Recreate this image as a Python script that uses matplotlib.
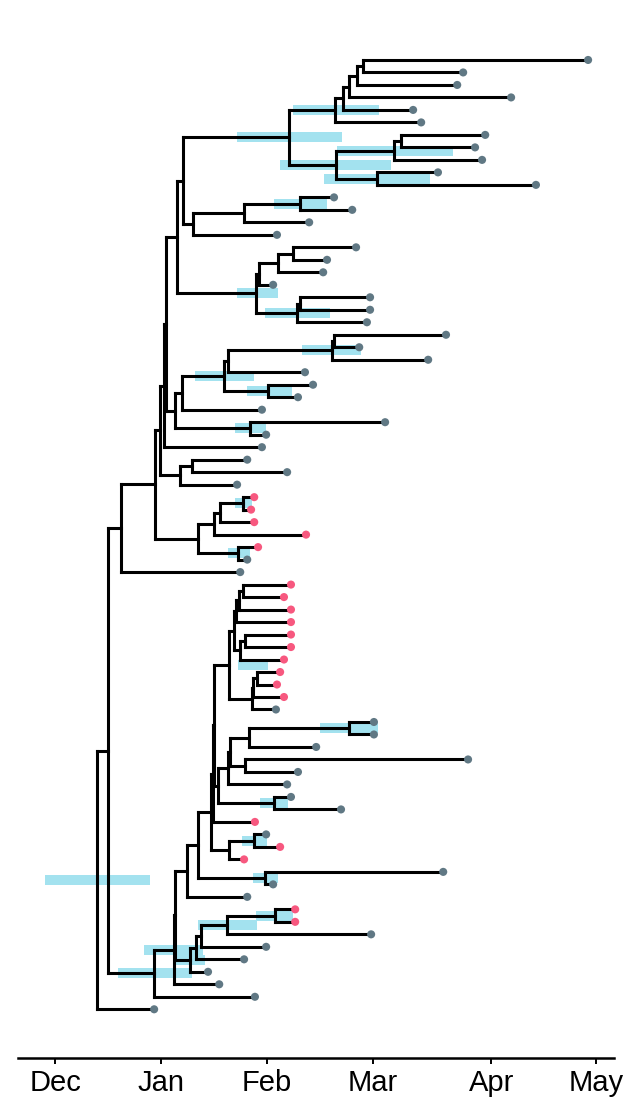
import numpy as np
import matplotlib.pyplot as plt
from matplotlib.collections import LineCollection

# Sampling dates of the tips (days after 1 Dec), listed top to bottom
tip_dates = [152.3, 116.6, 114.9, 130.3, 102.3, 104.6, 122.9, 120.0, 122.0, 109.4,
             137.4, 79.7, 84.9, 72.6, 63.4, 86.0, 77.7, 76.6, 62.3, 90.0,
             90.0, 89.1, 111.7, 86.9, 106.6, 71.4, 73.7, 69.4, 59.1, 94.3,
             60.3, 59.1, 54.9, 66.3, 52.0, 56.9, 56.0, 56.9, 71.7, 58.0,
             54.9, 52.9, 67.4, 65.4, 67.4, 67.4, 67.4, 67.4, 65.4, 64.3,
             63.4, 65.4, 63.1, 91.1, 91.1, 74.6, 118.0, 69.4, 66.3, 67.4,
             81.7, 57.1, 60.3, 64.3, 54.0, 110.9, 62.3, 54.9, 68.6, 68.6,
             90.3, 60.3, 54.0, 43.7, 46.9, 57.1, 28.3]

# tips shown in pink (numbered from the top, starting at 1)
pink_tips = [36, 37, 38, 39, 40, 43, 44, 45, 46, 47, 48, 49, 50, 51, 52, 62, 64, 65, 69, 70]

# internal nodes (children listed before parents), their children and dates
node_names = ["n1", "n2", "n3", "n4", "n5", "n6", "n7", "n8", "n9", "n10",
              "n11", "n12", "n13", "n14", "n15", "n16", "n17", "n18", "n19", "n20",
              "n21", "n22", "n23", "n24", "n25", "n26", "n27", "n28", "n29", "n30",
              "n31", "n32", "n33", "n34", "n35", "n36", "n37", "n38", "n39", "n40",
              "n41", "m1", "m2", "m3", "m4", "m5", "m6", "m7", "m8", "m9",
              "m10", "m11", "m12", "m13", "m14", "m15", "m16", "m17", "m18", "m19",
              "m20", "m21", "m22", "m23", "m24", "m25", "m26", "m27", "m28", "m29",
              "m30", "m31", "m32", "m33", "m34", "root"]
node_children = [(1, 2), ("n1", 3), ("n2", 4), ("n3", 5), ("n4", 6),
                 (7, 8), ("n6", 9), (10, 11), ("n7", "n8"), ("n5", "n9"),
                 (12, 13), ("n11", 14), ("n12", 15), ("n10", "n13"),
                 (16, 17), ("n15", 18), ("n16", 19), (20, 21), ("n18", 22), ("n17", "n19"),
                 ("n14", "n20"),
                 (23, 24), ("n22", 25), ("n23", 26), (27, 28), ("n24", "n25"), ("n26", 29),
                 (30, 31), ("n27", "n28"), ("n21", "n29"), ("n30", 32),
                 (33, 34), ("n32", 35), ("n31", "n33"),
                 (36, 37), ("n35", 38), ("n36", 39), (40, 41), ("n37", "n38"),
                 ("n34", "n39"), ("n40", 42),
                 (43, 44), ("m1", 45), ("m2", 46), (47, 48), ("m4", 49), ("m3", "m5"),
                 (50, 51), ("m7", 52), ("m8", 53), ("m6", "m9"),
                 (54, 55), ("m11", 56), (57, 58), ("m12", "m13"), ("m14", 59),
                 (60, 61), ("m15", "m16"), ("m10", "m17"), ("m18", 62),
                 (63, 64), ("m20", 65), ("m19", "m21"), (66, 67), ("m22", "m23"),
                 ("m24", 68), (69, 70), ("m26", 71), ("m27", 72), ("m28", 73), ("m29", 74),
                 ("m25", "m30"), ("m31", 75), ("m32", 76), ("n41", "m33"), ("m34", 77)]
node_dates = [88.0, 86.3, 84.0, 82.3, 80.0, 98.9, 96.9, 92.0, 80.3, 66.9,
              70.0, 54.0, 39.4, 36.6, 68.0, 63.7, 58.3, 70.0, 69.1, 57.4,
              34.9, 79.6, 79.1, 49.4, 60.9, 48.3, 36.3, 55.7, 34.3, 31.7,
              31.1, 39.1, 35.7, 30.0, 53.7, 47.1, 45.4, 52.3, 40.9, 28.6,
              18.9, 53.7, 52.6, 51.7, 54.4, 52.9, 51.1, 57.7, 56.6, 56.3,
              49.7, 84.0, 55.4, 54.4, 50.0, 49.3, 62.6, 46.6, 45.3, 45.0,
              56.9, 49.7, 44.5, 60.0, 40.9, 37.7, 62.9, 49.1, 41.7, 40.3,
              38.6, 34.4, 34.0, 28.4, 15.1, 12.0]

# 95% HPD intervals of node dates
hpd_nodes = ["n10", "n5", "n9", "n7", "n8", "n11", "n20", "n19", "n23", "n26",
             "n25", "n28", "n35", "n38", "m10", "m11", "m16", "m20", "root", "m23",
             "m26", "m27", "m32", "m30", "m33"]
hpd_low = [52.0, 68.0, 64.3, 80.6, 76.9, 62.6, 52.0, 60.0, 70.6, 40.0,
           54.9, 51.4, 51.4, 49.4, 52.3, 75.7, 58.6, 53.4, -2.9, 56.6,
           57.4, 40.9, 25.4, 34.3, 18.0]
hpd_high = [82.0, 92.6, 96.0, 113.7, 107.1, 77.7, 63.7, 78.6, 87.4, 56.9,
            67.7, 60.3, 56.3, 55.7, 60.9, 92.3, 66.6, 60.6, 27.1, 63.7,
            68.0, 57.7, 42.3, 42.9, 39.1]

tick_days = [0, 30.3, 60.5, 90.7, 124.6, 154.6]
tick_labels = ["Dec", "Jan", "Feb", "Mar", "Apr", "May"]

# layout: tips on rows, internal nodes at the mean row of their children
xpos = {}
ypos = {}
for i, d in enumerate(tip_dates):
    xpos[i + 1] = d
    ypos[i + 1] = i
for name, kids, d in zip(node_names, node_children, node_dates):
    xpos[name] = d
    ypos[name] = np.mean([ypos[k] for k in kids])

segments = []
for name, kids in zip(node_names, node_children):
    ys = [ypos[k] for k in kids]
    segments.append([(xpos[name], min(ys)), (xpos[name], max(ys))])
    for k in kids:
        segments.append([(xpos[name], ypos[k]), (xpos[k], ypos[k])])

fig = plt.figure(figsize=(6.27, 10.99), dpi=100)
ax = fig.add_axes([18 / 627, 41 / 1099, 596 / 627, 1058 / 1099])

# HPD bars
hpd_y = [ypos[n] for n in hpd_nodes]
ax.barh(hpd_y, np.array(hpd_high) - np.array(hpd_low), left=hpd_low,
        height=0.8, color="#a3e2ef", zorder=1)

lc = LineCollection(segments, colors="black", linewidths=2.2, capstyle="projecting", zorder=2)
ax.add_collection(lc)

tip_colors = ["#f7587f" if (i + 1) in pink_tips else "#607884" for i in range(len(tip_dates))]
ax.scatter(tip_dates, list(range(len(tip_dates))), s=34, c=tip_colors, zorder=3, linewidths=0)

ax.set_xlim(-10.6, 159.7)
ax.set_ylim(79.9, -4.8)
for s in ["top", "right", "left"]:
    ax.spines[s].set_visible(False)
ax.spines["bottom"].set_linewidth(1.8)
ax.set_yticks([])
ax.set_xticks(tick_days)
ax.set_xticklabels(tick_labels, fontsize=21, family="Liberation Sans")
ax.tick_params(axis="x", length=4, width=1.4, pad=4)

fig.savefig("out.png", dpi=100)
